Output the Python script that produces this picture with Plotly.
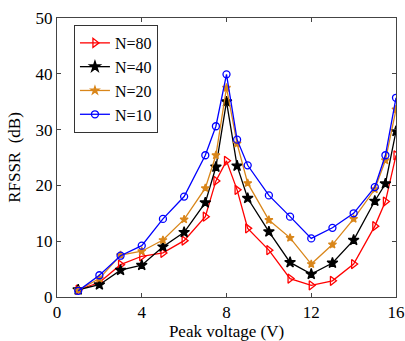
import plotly.graph_objects as go

x_vals = [1, 2, 3, 4, 5, 6, 7, 7.5, 8, 8.5, 9, 10, 11, 12, 13, 14, 15, 15.5, 16]
n80 = [1.3, 2.6, 5.8, 7.3, 7.9, 10.1, 14.4, 20.8, 24.4, 19.2, 12.3, 8.4, 3.3, 2.1, 2.9, 5.9, 12.7, 17.1, 25.4]
n40 = [1.3, 2.2, 4.8, 5.7, 9.0, 11.6, 16.9, 23.3, 35.0, 23.5, 17.7, 11.7, 6.2, 4.1, 6.1, 10.2, 17.2, 20.3, 29.7]
n20 = [1.2, 3.3, 7.5, 8.2, 10.2, 13.9, 19.5, 25.4, 37.5, 27.5, 20.4, 13.8, 10.6, 5.9, 9.4, 14.0, 19.3, 24.5, 33.6]
n10 = [1.1, 3.9, 7.4, 9.2, 14.0, 18.0, 25.4, 30.6, 39.9, 28.2, 23.6, 18.2, 14.4, 10.5, 12.4, 15.0, 19.7, 25.4, 35.7]
names = ["N=80", "N=40", "N=20", "N=10"]
x_ticks = [0, 4, 8, 12, 16]
y_ticks = [0, 10, 20, 30, 40, 50]

styles = [
    dict(color="#FF0000", symbol="triangle-right-open", size=8, lw=1.3),
    dict(color="#000000", symbol="star", size=8, lw=1.3),
    dict(color="#D9861A", symbol="star", size=6, lw=1.3),
    dict(color="#0000FF", symbol="circle-open", size=7, lw=1.3),
]

fig = go.Figure()
for name, ys, st in zip(names, [n80, n40, n20, n10], styles):
    fig.add_trace(go.Scatter(
        x=x_vals, y=ys, name=name, mode="lines+markers",
        line=dict(color=st["color"], width=st["lw"]),
        marker=dict(symbol=st["symbol"], size=st["size"], color=st["color"],
                    line=dict(color=st["color"], width=1.3)),
    ))

font_family = "Liberation Serif"
fig.update_layout(
    width=405, height=341,
    margin=dict(l=57, r=9, t=18, b=44),
    paper_bgcolor="white", plot_bgcolor="white",
    font=dict(family=font_family, size=17, color="#000000"),
    legend=dict(x=0.05, y=0.975, xanchor="left", yanchor="top",
                bgcolor="white", bordercolor="#333333", borderwidth=1,
                font=dict(family=font_family, size=16, color="#000000"),
                tracegroupgap=0, itemsizing="trace"),
    xaxis=dict(range=[0, 16], tickvals=x_ticks, ticks="inside", ticklen=4,
               showline=True, linecolor="#444444", linewidth=1, mirror="ticks",
               showgrid=False, zeroline=False, tickcolor="#444444", automargin=False,
               title=dict(text="Peak voltage (V)", font=dict(family=font_family, size=17), standoff=4),
               tickfont=dict(family=font_family, size=17)),
    yaxis=dict(range=[0, 50], tickvals=y_ticks, ticks="inside", ticklen=4,
               showline=True, linecolor="#444444", linewidth=1, mirror="ticks",
               showgrid=False, zeroline=False, tickcolor="#444444", automargin=False,
               title=dict(text="RFSSR  (dB)", font=dict(family=font_family, size=17), standoff=10),
               tickfont=dict(family=font_family, size=17)),
)

fig.write_html("out.html")
